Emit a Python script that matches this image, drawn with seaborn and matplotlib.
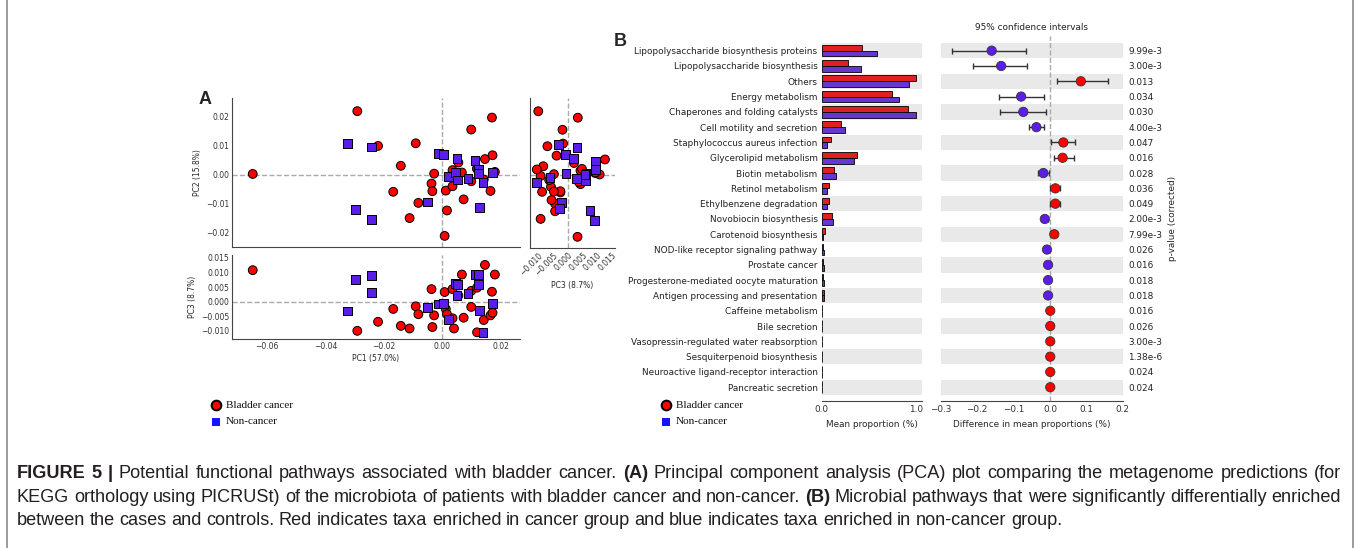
import matplotlib
matplotlib.use('Agg')
import numpy as np
import pandas as pd
import matplotlib.pyplot as plt
import seaborn as sns
from matplotlib.lines import Line2D

W, H = 1357, 548

# ---- Panel A: PCA scores ----
bladder_pc1 = [-0.0649, -0.0291, -0.0220, -0.0168, -0.0142, -0.0112, -0.0091, -0.0082, -0.0037, -0.0034,
               -0.0028, 0.0008, 0.0012, 0.0016, 0.0035, 0.0035, 0.0040, 0.0055, 0.0067, 0.0073,
               0.0099, 0.0099, 0.0119, 0.0119, 0.0142, 0.0146, 0.0165, 0.0170, 0.0172, 0.0180]
bladder_pc2 = [0.0002, 0.0217, 0.0098, -0.0059, 0.0030, -0.0149, 0.0107, -0.0097, -0.0031, -0.0057,
               0.0003, -0.0210, -0.0055, -0.0123, 0.0015, -0.0040, -0.0003, 0.0041, 0.0007, -0.0085,
               0.0154, -0.0023, 0.0021, 0.0019, -0.0017, 0.0053, -0.0056, 0.0195, 0.0066, 0.0009]
bladder_pc3 = [0.0108, -0.0100, -0.0069, -0.0025, -0.0083, -0.0092, -0.0016, -0.0043, 0.0043, -0.0087,
               -0.0047, 0.0033, -0.0025, -0.0043, 0.0043, -0.0057, -0.0092, 0.0021, 0.0093, -0.0055,
               -0.0018, 0.0037, 0.0048, -0.0105, -0.0063, 0.0126, -0.0047, 0.0034, -0.0038, 0.0093]

noncancer_pc1 = [-0.0325, -0.0296, -0.0242, -0.0242, -0.0052, -0.0013, 0.0003, 0.0021, 0.0044, 0.0050,
                 0.0052, 0.0088, 0.0112, 0.0125, 0.0125, 0.0128, 0.0139, 0.0171]
noncancer_pc2 = [0.0105, -0.0120, 0.0094, -0.0155, -0.0094, 0.0071, 0.0069, -0.0007, 0.0006, 0.0055,
                 -0.0019, -0.0013, 0.0048, 0.0019, 0.0003, -0.0114, -0.0026, 0.0006]
noncancer_pc3 = [-0.0032, 0.0075, 0.0031, 0.0090, -0.0021, -0.0008, -0.0007, -0.0060, 0.0062, 0.0020,
                 0.0060, 0.0029, 0.0094, 0.0094, 0.0058, -0.0029, -0.0107, -0.0006]

# ---- Panel B: extended error bar data ----
pathways = ['Lipopolysaccharide biosynthesis proteins', 'Lipopolysaccharide biosynthesis', 'Others',
            'Energy metabolism', 'Chaperones and folding catalysts', 'Cell motility and secretion',
            'Staphylococcus aureus infection', 'Glycerolipid metabolism', 'Biotin metabolism',
            'Retinol metabolism', 'Ethylbenzene degradation', 'Novobiocin biosynthesis',
            'Carotenoid biosynthesis', 'NOD-like receptor signaling pathway', 'Prostate cancer',
            'Progesterone-mediated oocyte maturation', 'Antigen processing and presentation',
            'Caffeine metabolism', 'Bile secretion', 'Vasopressin-regulated water reabsorption',
            'Sesquiterpenoid biosynthesis', 'Neuroactive ligand-receptor interaction', 'Pancreatic secretion']
bladder_mean = [0.426, 0.280, 1.000, 0.748, 0.922, 0.209, 0.096, 0.376, 0.131, 0.074, 0.074, 0.106,
                0.032, 0.018, 0.018, 0.018, 0.020, 0.006, 0.006, 0.004, 0.004, 0.004, 0.004]
noncancer_mean = [0.585, 0.415, 0.925, 0.826, 1.000, 0.248, 0.060, 0.344, 0.152, 0.057, 0.057, 0.124,
                  0.018, 0.022, 0.022, 0.022, 0.024, 0.005, 0.004, 0.003, 0.003, 0.003, 0.003]
mean_diff = [-0.160, -0.134, 0.085, -0.079, -0.073, -0.037, 0.037, 0.035, -0.018, 0.015, 0.015, -0.014,
             0.012, -0.008, -0.005, -0.005, -0.005, 0.001, 0.001, 0.001, 0.001, 0.001, 0.001]
ci_low = [-0.270, -0.212, 0.020, -0.140, -0.138, -0.058, 0.004, 0.010, -0.032, 0.001, 0.001, -0.021,
          0.004, -0.010, -0.007, -0.007, -0.007, 0.0005, 0.0005, 0.0005, 0.0005, 0.0005, 0.0005]
ci_high = [-0.066, -0.064, 0.160, -0.016, -0.012, -0.016, 0.069, 0.065, -0.002, 0.029, 0.029, -0.006,
           0.020, -0.006, -0.003, -0.003, -0.003, 0.0015, 0.0015, 0.0015, 0.0015, 0.0015, 0.0015]
p_values = ['9.99e-3', '3.00e-3', '0.013', '0.034', '0.030', '4.00e-3', '0.047', '0.016', '0.028',
            '0.036', '0.049', '2.00e-3', '7.99e-3', '0.026', '0.016', '0.018', '0.018', '0.016',
            '0.026', '3.00e-3', '1.38e-6', '0.024', '0.024']

groups = ['Bladder cancer', 'Non-cancer']
RED = '#ff0000'
BLUE = '#5a1ee8'
palette = {'Bladder cancer': RED, 'Non-cancer': BLUE}
markers = {'Bladder cancer': 'o', 'Non-cancer': 's'}

pca = pd.DataFrame({
    'PC1': bladder_pc1 + noncancer_pc1,
    'PC2': bladder_pc2 + noncancer_pc2,
    'PC3': bladder_pc3 + noncancer_pc3,
    'group': [groups[0]] * len(bladder_pc1) + [groups[1]] * len(noncancer_pc1),
})

sns.set_theme(style='white')
plt.rcParams['font.family'] = ['DejaVu Sans']
plt.rcParams.update({'xtick.direction': 'in', 'ytick.direction': 'in',
                     'xtick.major.size': 3, 'ytick.major.size': 3,
                     'xtick.major.width': 0.6, 'ytick.major.width': 0.6,
                     'xtick.color': '#333333', 'ytick.color': '#333333',
                     'axes.edgecolor': '#444444', 'axes.linewidth': 0.8})

fig = plt.figure(figsize=(W / 100, H / 100), dpi=100)


def add_axes(x0, y0, x1, y1):
    return fig.add_axes([x0 / W, 1 - y1 / H, (x1 - x0) / W, (y1 - y0) / H])


def pca_panel(ax, x, y, xlim, ylim):
    ax.axhline(0, color='#aaaaaa', ls='--', lw=1, zorder=0)
    ax.axvline(0, color='#aaaaaa', ls='--', lw=1, zorder=0)
    sns.scatterplot(data=pca, x=x, y=y, hue='group', style='group', palette=palette, markers=markers,
                    s=40, edgecolor='black', linewidth=0.7, legend=False, ax=ax, zorder=3)
    ax.set_xlim(*xlim)
    ax.set_ylim(*ylim)
    sns.despine(ax=ax)
    ax.tick_params(labelsize=5.5, pad=2)
    ax.set_xlabel('')
    ax.set_ylabel('')


pc1_lim = (-0.072, 0.0266)
pc2_lim = (-0.0248, 0.0262)
pc3_lim = (-0.0128, 0.016)

ax12 = add_axes(232, 98, 520, 247)
pca_panel(ax12, 'PC1', 'PC2', pc1_lim, pc2_lim)
ax12.set_xticks([-0.06, -0.04, -0.02, 0.0, 0.02])
ax12.set_yticks([-0.02, -0.01, 0.0, 0.01, 0.02])
ax12.tick_params(labelbottom=False)
ax12.set_ylabel('PC2 (15.8%)', fontsize=5.5, labelpad=3)

ax13 = add_axes(232, 255, 520, 339)
pca_panel(ax13, 'PC1', 'PC3', pc1_lim, pc3_lim)
ax13.set_xticks([-0.06, -0.04, -0.02, 0.0, 0.02])
ax13.set_yticks([-0.010, -0.005, 0.0, 0.005, 0.010, 0.015])
ax13.set_xlabel('PC1 (57.0%)', fontsize=5.5, labelpad=2)
ax13.set_ylabel('PC3 (8.7%)', fontsize=5.5, labelpad=3)

ax32 = add_axes(530, 98, 615, 248)
pca_panel(ax32, 'PC3', 'PC2', pc3_lim, pc2_lim)
ax32.set_xticks([-0.010, -0.005, 0.0, 0.005, 0.010, 0.015])
ax32.set_yticks([-0.02, -0.01, 0.0, 0.01, 0.02])
ax32.tick_params(labelleft=False)
for lab in ax32.get_xticklabels():
    lab.set_rotation(45)
    lab.set_ha('right')
    lab.set_rotation_mode('anchor')
ax32.set_xlabel('PC3 (8.7%)', fontsize=5.5, labelpad=3)

# ---- Panel B ----
n = len(pathways)
rows = np.arange(n)
ylim_b = (n - 1 + 0.9, -0.96)

bars = pd.DataFrame({
    'pathway': pathways * 2,
    'mean': bladder_mean + noncancer_mean,
    'group': [groups[0]] * n + [groups[1]] * n,
})

ax_bar = add_axes(821.7, 36, 921.7, 401)
for i in rows[::2]:
    ax_bar.axhspan(i - 0.5, i + 0.5, color='#e9e9e9', lw=0, zorder=0)
sns.barplot(data=bars, x='mean', y='pathway', hue='group', hue_order=groups, palette=palette,
            orient='h', width=0.76, edgecolor='black', linewidth=0.6, errorbar=None,
            legend=False, ax=ax_bar, zorder=2)
ax_bar.set_xlim(0, 1.064)
ax_bar.set_ylim(*ylim_b)
ax_bar.set_xticks([0, 1])
ax_bar.set_xticklabels(['0.0', '1.0'])
sns.despine(ax=ax_bar, left=True)
ax_bar.tick_params(axis='y', length=0, pad=3, labelsize=6.4, colors='#222222')
ax_bar.tick_params(axis='x', labelsize=6.4, pad=3)
ax_bar.set_ylabel('')
ax_bar.set_xlabel('Mean proportion (%)', fontsize=6.4, labelpad=4)

ax_ci = add_axes(940.7, 36, 1122.7, 401)
for i in rows[::2]:
    ax_ci.axhspan(i - 0.5, i + 0.5, color='#e9e9e9', lw=0, zorder=0)
ax_ci.axvline(0, color='#aaaaaa', ls='--', lw=1, zorder=1)
diff = np.array(mean_diff)
ax_ci.errorbar(diff, rows, xerr=[diff - np.array(ci_low), np.array(ci_high) - diff], fmt='none',
               ecolor='#333333', elinewidth=1, capsize=2.5, capthick=1, zorder=2)
ci = pd.DataFrame({'diff': mean_diff, 'row': rows,
                   'group': [groups[0] if d > 0 else groups[1] for d in mean_diff]})
sns.scatterplot(data=ci, x='diff', y='row', hue='group', palette=palette, s=45, edgecolor='#333333',
                linewidth=0.6, legend=False, ax=ax_ci, zorder=3)
ax_ci.set_xlim(-0.3, 0.2)
ax_ci.set_ylim(*ylim_b)
ax_ci.set_xticks([-0.3, -0.2, -0.1, 0.0, 0.1, 0.2])
ax_ci.set_yticks([])
sns.despine(ax=ax_ci, left=True)
ax_ci.tick_params(axis='x', labelsize=6.4, pad=3)
ax_ci.set_ylabel('')
ax_ci.set_xlabel('Difference in mean proportions (%)', fontsize=6.4, labelpad=4)
ax_ci.set_title('95% confidence intervals', fontsize=6.4, pad=4, color='#222222')

ax_p = ax_ci.twinx()
ax_p.set_ylim(*ylim_b)
ax_p.set_yticks(rows)
ax_p.set_yticklabels(p_values)
ax_p.tick_params(axis='y', length=0, pad=4, labelsize=6.4, colors='#222222')
for s in ax_p.spines.values():
    s.set_visible(False)
ax_p.set_ylabel('p-value (corrected)', fontsize=6.4, labelpad=4)

# ---- panel letters and legends ----
fig.text(199 / W, 1 - 100 / H, 'A', fontsize=13, fontweight='bold', va='center', family='Liberation Sans')
fig.text(614 / W, 1 - 42 / H, 'B', fontsize=13, fontweight='bold', va='center', family='Liberation Sans')

for lx in (216, 666):
    fig.add_artist(Line2D([lx / W], [1 - 405 / H], transform=fig.transFigure, marker='o', ms=7,
                          mfc=RED, mec='black', mew=1.4, ls=''))
    fig.add_artist(Line2D([lx / W], [1 - 421.5 / H], transform=fig.transFigure, marker='s', ms=6,
                          mfc='#1414ff', mec='#1414ff', mew=0, ls=''))
    fig.text((lx + 10) / W, 1 - 405 / H, 'Bladder cancer', fontsize=8, family='Liberation Serif',
             va='center', color='#111111')
    fig.text((lx + 10) / W, 1 - 421.5 / H, 'Non-cancer', fontsize=8, family='Liberation Serif',
             va='center', color='#111111')

# ---- caption (justified like the journal layout) ----
caption = [
    [('FIGURE 5 |', True), ('Potential functional pathways associated with bladder cancer.', False),
     ('(A)', True), ('Principal component analysis (PCA) plot comparing the metagenome predictions (for', False)],
    [('KEGG orthology using PICRUSt) of the microbiota of patients with bladder cancer and non-cancer.', False),
     ('(B)', True), ('Microbial pathways that were significantly differentially enriched', False)],
    [('between the cases and controls. Red indicates taxa enriched in cancer group and blue indicates '
      'taxa enriched in non-cancer group.', False)],
]
CAP_FONT = 'Liberation Sans'
renderer = fig.canvas.get_renderer()
X0, X1 = 17, 1341


def words_of(parts):
    out = []
    for txt, bold in parts:
        for w in txt.split(' '):
            out.append((w, bold))
    return out


def place_words(y, words, fs, gap=None):
    texts, widths = [], []
    for w, bold in words:
        t = fig.text(0, 1 - y / H, w, fontsize=fs, family=CAP_FONT,
                     fontweight='bold' if bold else 'normal', va='center', ha='left', color='#231f20')
        texts.append(t)
        widths.append(t.get_window_extent(renderer).width)
    if gap is None:
        gap = (X1 - X0 - sum(widths)) / (len(words) - 1)
    x = X0
    for t, wd in zip(texts, widths):
        t.set_x(x / W)
        x += wd + gap
    return texts, sum(widths), len(words)


# pick the font size so the fuller of the two justified lines keeps normal spacing
fs0 = 11
need = []
for parts in caption[:2]:
    tx, tot, nw = place_words(474, words_of(parts), fs0)
    need.append((tot + (nw - 1) * 0.25 * fs0 * 100 / 72) / (X1 - X0))
    for t in tx:
        t.remove()
cap_fs = fs0 / max(need)
place_words(474, words_of(caption[0]), cap_fs)
place_words(497.5, words_of(caption[1]), cap_fs)
place_words(520.5, words_of(caption[2]), cap_fs, gap=0.25 * cap_fs * 100 / 72)

# figure frame
for fx in (7, 1353):
    fig.add_artist(Line2D([fx / W, fx / W], [0, 1], transform=fig.transFigure, color='#8a8a8a', lw=1.2))

fig.savefig('out.png', dpi=100)
